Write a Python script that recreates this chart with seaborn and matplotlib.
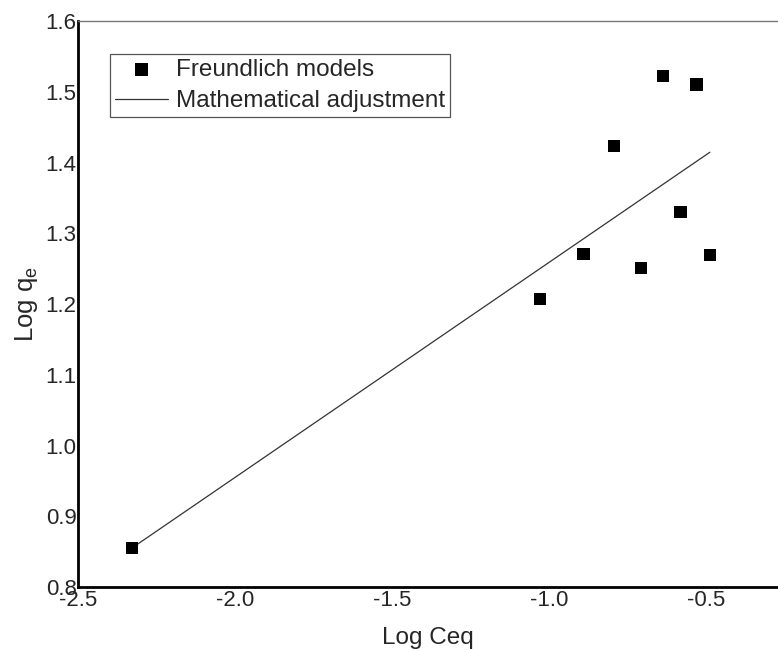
import matplotlib
matplotlib.use("Agg")
import matplotlib.pyplot as plt
import numpy as np
import pandas as pd
import seaborn as sns

#%% Data (Freundlich linearised isotherm)
log_ceq = [-2.328, -1.029, -0.889, -0.793, -0.707, -0.637, -0.580, -0.529, -0.487]
log_qe = [0.855, 1.207, 1.271, 1.423, 1.251, 1.522, 1.330, 1.510, 1.269]
x_ticks = [-2.5, -2.0, -1.5, -1.0, -0.5]
y_ticks = [0.8, 0.9, 1.0, 1.1, 1.2, 1.3, 1.4, 1.5, 1.6]

data = pd.DataFrame({"Log Ceq": log_ceq, "Log qe": log_qe})

#%% Figure
sns.set_style("white")
plt.rcParams['font.family'] = ['Liberation Sans', 'DejaVu Sans']

fig = plt.figure(figsize=(7.78, 6.5), dpi=100)
ax = fig.add_axes([78 / 778, 63 / 650, 1 - 78 / 778, 566 / 650])

# fitted line (least squares over the data range)
sns.regplot(data=data, x="Log Ceq", y="Log qe", scatter=False, ci=None,
            truncate=True, ax=ax,
            line_kws=dict(color="#333333", linewidth=0.9))
fit_line = ax.lines[-1]
fit_line.set_label("Mathematical adjustment")

# experimental points
sns.scatterplot(data=data, x="Log Ceq", y="Log qe", ax=ax,
                marker="s", color="black", s=80, edgecolor="none",
                label="Freundlich models", zorder=3)

ax.set_xlim(-2.5, -0.27)
ax.set_ylim(0.8, 1.6)
ax.set_xticks(x_ticks)
ax.set_yticks(y_ticks)
ax.set_xticklabels([f"{v:.1f}" for v in x_ticks])
ax.set_yticklabels([f"{v:.1f}" for v in y_ticks])
ax.tick_params(axis="both", length=0, pad=1, labelsize=16)
ax.tick_params(axis="x", pad=2)

ax.set_xlabel("Log Ceq", fontsize=17.5, labelpad=12)
ax.set_ylabel(r"Log q$_\mathregular{e}$", fontsize=18.5, labelpad=4)

ax.spines["right"].set_visible(False)
ax.spines["top"].set_color("#777777")
ax.spines["top"].set_linewidth(1.0)
for side in ["left", "bottom"]:
    ax.spines[side].set_color("black")
    ax.spines[side].set_linewidth(2.0)

handles, labels = ax.get_legend_handles_labels()
order = [labels.index("Freundlich models"), labels.index("Mathematical adjustment")]
leg = ax.legend([handles[i] for i in order], [labels[i] for i in order],
                loc="upper left", bbox_to_anchor=(32 / 700, 1 - 33 / 566),
                fontsize=17.5, frameon=True, fancybox=False, framealpha=1,
                edgecolor="#555555", borderpad=0.2, labelspacing=0.38,
                handlelength=2.2, handletextpad=0.33, borderaxespad=0)
leg.get_frame().set_linewidth(0.9)

fig.savefig("out.png", dpi=100)
